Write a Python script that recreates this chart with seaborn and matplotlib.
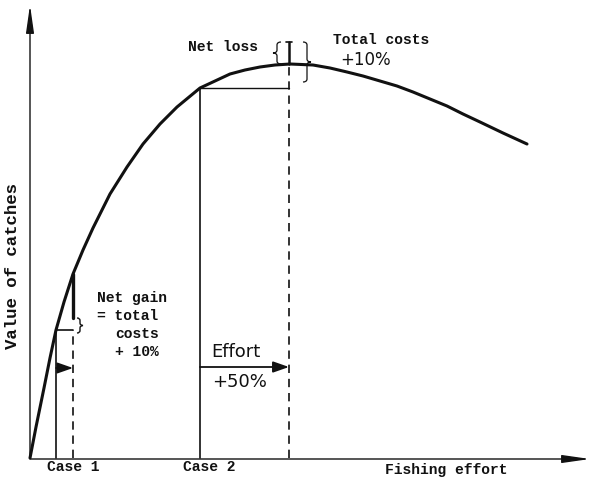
import matplotlib

matplotlib.use("Agg")
import matplotlib.pyplot as plt
import pandas as pd
import seaborn as sns
from matplotlib.patches import PathPatch
from matplotlib.path import Path

# yield curve: fishing effort vs value of catches
effort = [0, 6, 14, 20, 26, 34, 43, 53, 63, 80, 97, 113, 130, 147, 170, 185,
          200, 215, 230, 245, 260, 283, 300, 317, 333, 350, 367, 383, 400, 417,
          433, 450, 473, 497]
value = [0, 31, 70, 100, 128, 156, 184, 208, 230, 264, 291, 314, 334, 351, 370,
         377, 384, 388, 391, 393, 394, 393, 390, 386, 382, 377, 372, 366, 359,
         352, 344, 336, 325, 314]

# two cases: starting effort / value and effort raised by 50 %
case_labels = ["Case 1", "Case 2"]
case_effort = [26, 170]
case_value = [128, 370]
raised_effort = [43, 259]
raised_value = [184, 394]
costs_top = [140, 416]  # top of the "total costs + 10 %" marks

INK = "#111111"
MONO = "Liberation Mono"
SANS = "DejaVu Sans"

sns.set_theme(style="white")

fig = plt.figure(figsize=(6, 4.9), dpi=100)
ax = fig.add_axes([0, 0, 1, 1])
ax.set_xlim(-30, 570)
ax.set_ylim(-32, 458)
ax.axis("off")


def brace(x, y0, y1, w, lw=1.0):
    ym = (y0 + y1) / 2
    q = min(3.0, (y1 - y0) / 6)
    verts = [
        (x, y1), (x + w / 2, y1), (x + w / 2, y1 - q),
        (x + w / 2, ym + q),
        (x + w / 2, ym), (x + w, ym),
        (x + w / 2, ym), (x + w / 2, ym - q),
        (x + w / 2, y0 + q),
        (x + w / 2, y0), (x, y0),
    ]
    codes = [Path.MOVETO, Path.CURVE3, Path.CURVE3, Path.LINETO,
             Path.CURVE3, Path.CURVE3, Path.CURVE3, Path.CURVE3,
             Path.LINETO, Path.CURVE3, Path.CURVE3]
    ax.add_patch(PathPatch(Path(verts, codes), fill=False, lw=lw, color=INK))


def arrow(x0, y0, x1, y1, hl=1.2, hw=0.25, lw=1.0):
    ax.annotate("", xy=(x1, y1), xytext=(x0, y0),
                arrowprops=dict(arrowstyle=f"-|>,head_length={hl},head_width={hw}",
                                lw=lw, color=INK, shrinkA=0, shrinkB=0))


# axes with arrow heads
arrow(0, 0, 0, 453, hl=1.4, hw=0.2, lw=1.0)
arrow(0, -1, 560, -1, hl=1.4, hw=0.2, lw=1.0)

curve = pd.DataFrame({"effort": effort, "value": value})
sns.lineplot(data=curve, x="effort", y="value", sort=False, estimator=None,
             color=INK, lw=2.2, solid_joinstyle="round", solid_capstyle="round",
             ax=ax)

label_x = [17, 153]
for i in range(2):
    e0, v0 = case_effort[i], case_value[i]
    e1, v1 = raised_effort[i], raised_value[i]
    ax.plot([e0, e0], [0, v0], color=INK, lw=1.2)
    ax.plot([e0, e1], [v0, v0], color=INK, lw=1.0 if i else 1.2)
    ax.plot([e1, e1], [0, v0 if i == 0 else v1], color=INK, lw=1.2,
            ls=(0, (5, 3.5)))
    ax.text(label_x[i], -9, case_labels[i], family=MONO, weight="bold",
            fontsize=10.5, ha="left", va="center", color=INK)

# case 1: effort arrow, gain bar and brace
arrow(case_effort[0], 90, raised_effort[0], 90, hl=0.8, hw=0.28, lw=1.2)
ax.plot([raised_effort[0]] * 2, [costs_top[0], raised_value[0]], color=INK, lw=2.4)
brace(raised_effort[0] + 4, 125, 140, 6, lw=1.0)

# case 2: effort arrow, loss mark and braces
arrow(case_effort[1], 91, raised_effort[1], 91, hl=0.8, hw=0.28, lw=1.3)
ax.plot([raised_effort[1]] * 2, [raised_value[1], costs_top[1]], color=INK, lw=1.8)
ax.plot([raised_effort[1] - 3, raised_effort[1] + 3], [costs_top[1]] * 2,
        color=INK, lw=1.2)
brace(raised_effort[1] - 8, raised_value[1], costs_top[1], -8, lw=0.9)
brace(raised_effort[1] + 14, 376, costs_top[1], 8, lw=0.9)

mono = dict(family=MONO, weight="bold", fontsize=10.5, color=INK, va="center")
sans = dict(family=SANS, color=INK, va="center")

ax.text(67, 160, "Net gain", **mono)
ax.text(67, 142, "= total", **mono)
ax.text(85, 124, "costs", **mono)
ax.text(85, 106, "+ 10%", **mono)
ax.text(158, 411, "Net loss", **mono)
ax.text(303, 418, "Total costs", **mono)
ax.text(355, -12, "Fishing effort", **mono)
ax.text(-17, 192, "Value of catches", rotation=90, ha="center", family=MONO,
        weight="bold", fontsize=12.5, color=INK, va="center")

ax.text(181, 106, "Effort", fontsize=13, **sans)
ax.text(182, 76, "+50%", fontsize=13, **sans)
ax.text(310, 398, "+10%", fontsize=12, **sans)

fig.savefig("out.png", dpi=100, facecolor="white")
